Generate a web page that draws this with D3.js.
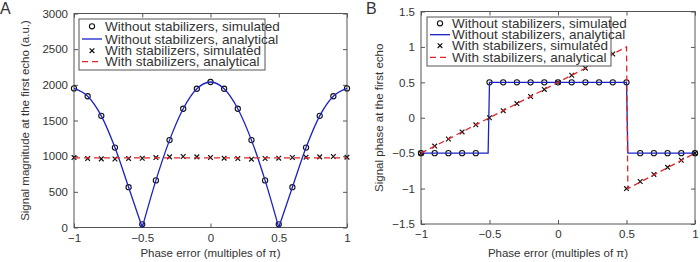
<!DOCTYPE html>
<html>
<head>
<meta charset="utf-8">
<script src="https://cdn.jsdelivr.net/npm/d3@7"></script>
<style>
  body { margin: 0; background: #fff; }
  text { font-family: "Liberation Sans", Arial, sans-serif; fill: #333; }
</style>
</head>
<body>
<div id="chart"></div>
<script>
// phase error grid, multiples of pi
const phase = [-1, -0.9, -0.8, -0.7, -0.6, -0.5, -0.4, -0.3, -0.2, -0.1, 0,
  0.1, 0.2, 0.3, 0.4, 0.5, 0.6, 0.7, 0.8, 0.9, 1];

// panel A: magnitude
const magNoStabSim = [1950, 1840, 1565, 1120, 565, 45, 660, 1225, 1665, 1945, 2040,
  1945, 1665, 1225, 660, 45, 565, 1120, 1565, 1840, 1950];
const magNoStabAnaX = [-1, -0.9, -0.8, -0.7, -0.6, -0.5, -0.4, -0.3, -0.2, -0.1, 0,
  0.1, 0.2, 0.3, 0.4, 0.5, 0.6, 0.7, 0.8, 0.9, 1];
const magNoStabAna = [1950, 1840, 1565, 1120, 565, 0, 660, 1225, 1665, 1945, 2040,
  1945, 1665, 1225, 660, 0, 565, 1120, 1565, 1840, 1950];
const magStabSim = [980, 966, 962, 960, 966, 971, 980, 990, 995, 990, 981,
  972, 967, 958, 967, 972, 981, 986, 990, 995, 986];
const magStabAnaX = [-1, 1];
const magStabAna = [975, 975];

// panel B: phase
const phNoStabSim = [-0.5, -0.5, -0.5, -0.5, -0.5, 0.5, 0.5, 0.5, 0.5, 0.5, 0.5,
  0.5, 0.5, 0.5, 0.5, 0.5, -0.5, -0.5, -0.5, -0.5, -0.5];
const phNoStabAnaX = [-1, -0.51, -0.5, 0.5, 0.51, 1];
const phNoStabAna = [-0.5, -0.5, 0.5, 0.5, -0.5, -0.5];
const phStabSim = [-0.5, -0.4, -0.3, -0.2, -0.1, 0, 0.1, 0.2, 0.3, 0.4, 0.5,
  0.6, 0.7, 0.8, 0.9, -1, -0.9, -0.8, -0.7, -0.6, -0.5];
const phStabAnaX = [-1, 0.5, 0.51, 1];
const phStabAna = [-0.5, 1, -1, -0.5];

const xTicks = [-1, -0.5, 0, 0.5, 1];
const magTicks = [0, 500, 1000, 1500, 2000, 2500, 3000];
const phTicks = [-1.5, -1, -0.5, 0, 0.5, 1, 1.5];
const legendLabels = ["Without stabilizers, simulated", "Without stabilizers, analytical",
  "With stabilizers, simulated", "With stabilizers, analytical"];

const width = 700, height = 262;
const blue = "#1a22c4", red = "#e3242b", frame = "#555";

const svg = d3.select("#chart").append("svg")
  .attr("width", width).attr("height", height);

const fmt = d => String(d).replace("-", "\u2212");

function panel(opt) {
  const x = d3.scaleLinear().domain([-1, 1]).range([opt.left, opt.right]);
  const y = d3.scaleLinear().domain(opt.yDomain).range([opt.bottom, opt.top]);
  const g = svg.append("g");

  // frame + inward ticks
  g.append("rect")
    .attr("x", opt.left).attr("y", opt.top)
    .attr("width", opt.right - opt.left).attr("height", opt.bottom - opt.top)
    .attr("fill", "none").attr("stroke", frame);

  const axB = d3.axisBottom(x).tickValues(xTicks).tickSizeInner(-4).tickSizeOuter(0).tickPadding(6).tickFormat(fmt);
  const axT = d3.axisTop(x).tickValues(xTicks).tickSizeInner(-4).tickSizeOuter(0).tickFormat("");
  const axL = d3.axisLeft(y).tickValues(opt.yTicks).tickSizeInner(-4).tickSizeOuter(0).tickPadding(6).tickFormat(fmt);
  const axR = d3.axisRight(y).tickValues(opt.yTicks).tickSizeInner(-4).tickSizeOuter(0).tickFormat("");

  [[axB, `translate(0,${opt.bottom})`], [axT, `translate(0,${opt.top})`],
   [axL, `translate(${opt.left},0)`], [axR, `translate(${opt.right},0)`]].forEach(([ax, tr]) => {
    const a = g.append("g").attr("transform", tr).call(ax);
    a.select(".domain").remove();
    a.selectAll("line").attr("stroke", frame);
    a.selectAll("text").attr("font-size", 11.5).attr("fill", "#333")
      .attr("font-family", "Liberation Sans, Arial, sans-serif");
  });

  // labels
  g.append("text").attr("x", (opt.left + opt.right) / 2).attr("y", 257)
    .attr("text-anchor", "middle").attr("font-size", 11.5)
    .text("Phase error (multiples of \u03c0)");
  g.append("text")
    .attr("transform", `translate(${opt.yLabelX},${(opt.top + opt.bottom) / 2}) rotate(-90)`)
    .attr("text-anchor", "middle").attr("font-size", 11.5)
    .text(opt.yLabel);
  g.append("text").attr("x", opt.letterX).attr("y", 13.5)
    .attr("font-size", 16).attr("fill", "#111").text(opt.letter);

  // clip marks to the axes box
  const clipId = "clip" + opt.letter;
  svg.append("clipPath").attr("id", clipId).append("rect")
    .attr("x", opt.left - 4).attr("y", opt.top - 4)
    .attr("width", opt.right - opt.left + 8).attr("height", opt.bottom - opt.top + 8);
  const plot = g.append("g").attr("clip-path", `url(#${clipId})`);

  // simulated, no stabilizers: circles
  plot.append("g").selectAll("circle")
    .data(phase.map((p, i) => [p, opt.noSim[i]]))
    .join("circle")
    .attr("cx", d => x(d[0])).attr("cy", d => y(d[1])).attr("r", 2.6)
    .attr("fill", "none").attr("stroke", "#111").attr("stroke-width", 1.1);

  // analytical, no stabilizers
  const line = d3.line().x(d => x(d[0])).y(d => y(d[1]));
  opt.noAnaSegments.forEach(seg => {
    plot.append("path").datum(seg)
      .attr("d", line.curve(opt.noAnaCurve)(seg))
      .attr("fill", "none").attr("stroke", blue).attr("stroke-width", 1.3);
  });

  // simulated, stabilizers: crosses
  const cross = d3.symbol().type(d3.symbolX).size(16);
  plot.append("g").selectAll("path")
    .data(phase.map((p, i) => [p, opt.stSim[i]]))
    .join("path")
    .attr("transform", d => `translate(${x(d[0])},${y(d[1])})`)
    .attr("d", cross).attr("fill", "none").attr("stroke", "#111").attr("stroke-width", 1.2);

  // analytical, stabilizers
  plot.append("path")
    .attr("d", d3.line().x(d => x(d[0])).y(d => y(d[1]))(opt.stAnaX.map((p, i) => [p, opt.stAna[i]])))
    .attr("fill", "none").attr("stroke", red).attr("stroke-width", 1.3)
    .attr("stroke-dasharray", "6,4");

  // legend
  const L = opt.legend;
  const lg = g.append("g");
  lg.append("rect").attr("x", L.x).attr("y", L.y).attr("width", L.w).attr("height", L.h)
    .attr("fill", "#fff").attr("stroke", frame);
  legendLabels.forEach((lab, i) => {
    const yy = L.rows[i];
    const mx = (L.lineX0 + L.lineX1) / 2;
    if (i === 0) {
      lg.append("circle").attr("cx", mx).attr("cy", yy).attr("r", 2.6)
        .attr("fill", "none").attr("stroke", "#111").attr("stroke-width", 1.1);
    } else if (i === 2) {
      lg.append("path").attr("transform", `translate(${mx},${yy})`)
        .attr("d", cross).attr("fill", "none").attr("stroke", "#111").attr("stroke-width", 1.2);
    } else {
      lg.append("line").attr("x1", L.lineX0).attr("x2", L.lineX1).attr("y1", yy).attr("y2", yy)
        .attr("stroke", i === 1 ? blue : red).attr("stroke-width", 1.3)
        .attr("stroke-dasharray", i === 3 ? "6,4" : null);
    }
    lg.append("text").attr("x", L.textX).attr("y", yy).attr("dy", "0.35em")
      .attr("font-size", 13.5).attr("fill", "#222").text(lab);
  });
}

// split the magnitude line at its zeros so the V-shaped minima stay sharp
const magPts = magNoStabAnaX.map((p, i) => [p, magNoStabAna[i]]);
const magSegs = [magPts.slice(0, 6), magPts.slice(5, 16), magPts.slice(15)];

panel({
  letter: "A", letterX: 0,
  left: 74, right: 347, top: 13.5, bottom: 227.5,
  yDomain: [0, 3000], yTicks: magTicks,
  yLabel: "Signal magnitude at the first echo (a.u.)", yLabelX: 29,
  noSim: magNoStabSim, noAnaSegments: magSegs, noAnaCurve: d3.curveMonotoneX,
  stSim: magStabSim, stAnaX: magStabAnaX, stAna: magStabAna,
  legend: { x: 79, y: 19, w: 186, h: 51, rows: [26.3, 39, 50.7, 61.7], lineX0: 82, lineX1: 102, textX: 105 }
});

panel({
  letter: "B", letterX: 366,
  left: 421, right: 695, top: 11.5, bottom: 224,
  yDomain: [-1.5, 1.5], yTicks: phTicks,
  yLabel: "Signal phase at the first echo", yLabelX: 383,
  noSim: phNoStabSim, noAnaSegments: [phNoStabAnaX.map((p, i) => [p, phNoStabAna[i]])],
  noAnaCurve: d3.curveLinear,
  stSim: phStabSim, stAnaX: phStabAnaX, stAna: phStabAna,
  legend: { x: 427, y: 17, w: 184, h: 49, rows: [23.3, 34.7, 45.7, 57.3], lineX0: 430, lineX1: 450, textX: 452 }
});
</script>
</body>
</html>
